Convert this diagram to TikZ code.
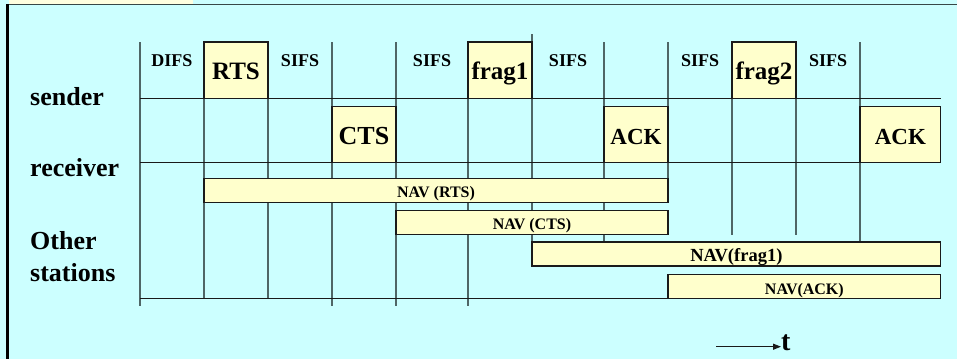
\documentclass[tikz,border=0pt]{standalone}
\usepackage{fontspec}
\setmainfont{Liberation Serif}
\usetikzlibrary{arrows.meta,positioning,calc}
\definecolor{navSky}{HTML}{CCFFFF}
\definecolor{navCream}{HTML}{FFFFCC}
\definecolor{navGrid}{HTML}{4F6666}
\definecolor{navInk}{HTML}{1A1A1A}
\newcommand{\bsz}[1]{\fontsize{#1}{#1}\selectfont\bfseries}

\begin{document}
\begin{tikzpicture}[x=1pt,y=-1pt,
      frame/.style={draw=navInk,fill=navCream,line width=1.2pt,inner sep=0pt,outer sep=0pt,anchor=north west},
      pkt/.style={frame,minimum width=64pt,text height=19pt,text depth=0pt,font=\bsz{25}},
      nav/.style={frame,minimum height=24pt,text height=15pt,text depth=0pt,font=\bsz{16}},
      gap/.style={anchor=base,inner sep=0pt,font=\bsz{18}},
      who/.style={anchor=base west,inner sep=0pt,font=\bsz{26}},
      grid/.style={navGrid,line width=1.2pt},
      row/.style={navInk,line width=1.2pt}]
    \useasboundingbox (0,0) rectangle (957,359);
    \fill[navSky] (0,0) rectangle (957,359);
    \fill[navCream!60!white] (9,0) rectangle (193,4);
    \draw[navGrid!70!black,line width=1.3pt] (6,4.7) -- (957,4.7);
    \draw[black,line width=3pt] (7.5,4) -- (7.5,359);
    % time slots
    \foreach \x/\y in {140/306,204/298,268/298,332/306,396/306,468/306,604/242,668/178,732/234.5,796/234.5,860/242}
      \draw[grid] (\x,42) -- (\x,\y);
    \draw[grid] (532,34) -- (532,242);
    \draw[row] (140,98.7) -- (940.7,98.7);
    \draw[row] (140,162.7) -- (940.7,162.7);
    \draw[row] (140,298.3) -- (668,298.3);
    % frames on the air
    \node[pkt,minimum height=56.7pt] (rts) at (204,42) {RTS};
    \node[pkt,minimum height=56.7pt] (frag1) at (468,42) {frag1};
    \node[pkt,minimum height=56.7pt] (frag2) at (732,42) {frag2};
    \node[pkt,minimum height=56pt,font=\bsz{26}] (cts) at (332,106.7) {CTS};
    \node[pkt,minimum height=56pt,font=\bsz{23}] (ack1) at (604,106.7) {ACK};
    \node[pkt,minimum height=56pt,minimum width=80.7pt,font=\bsz{23}] (ack2) at (860,106.7) {ACK};
    % inter-frame spaces
    \node[gap] (difs) at (172,66) {DIFS};
    \foreach \x [count=\i] in {300,432,568,700,828}
      \node[gap] (sifs\i) at (\x,66) {SIFS};
    % NAV settings
    \node[nav,minimum width=464pt] (navrts) at (204,178.3) {NAV (RTS)};
    \node[nav,minimum width=272pt] (navcts) at (396,210.3) {NAV (CTS)};
    \node[nav,minimum width=408.7pt,font=\bsz{18.5}] (navfrag) at (532,242) {NAV(frag1)};
    \node[nav,minimum width=272.7pt] (navack) at (668,274.5) {NAV(ACK)};
    % stations
    \node[who] (sender) at (30,105) {sender};
    \node[who] (receiver) at (30,176.5) {receiver};
    \node[who] (other) at (30,249.5) {Other};
    \node[who] (stations) at (30,281.5) {stations};
    % time axis
    \node[anchor=base west,inner sep=0pt,font=\bsz{28}] (tlab) at (781,350.5) {t};
    \coordinate (tstart) at (716,346.7);
    \draw[navInk,line width=1.3pt,-{Triangle[length=8pt,width=6pt]}] (tstart) -- (tstart -| tlab.west);
  \end{tikzpicture}
\end{document}
